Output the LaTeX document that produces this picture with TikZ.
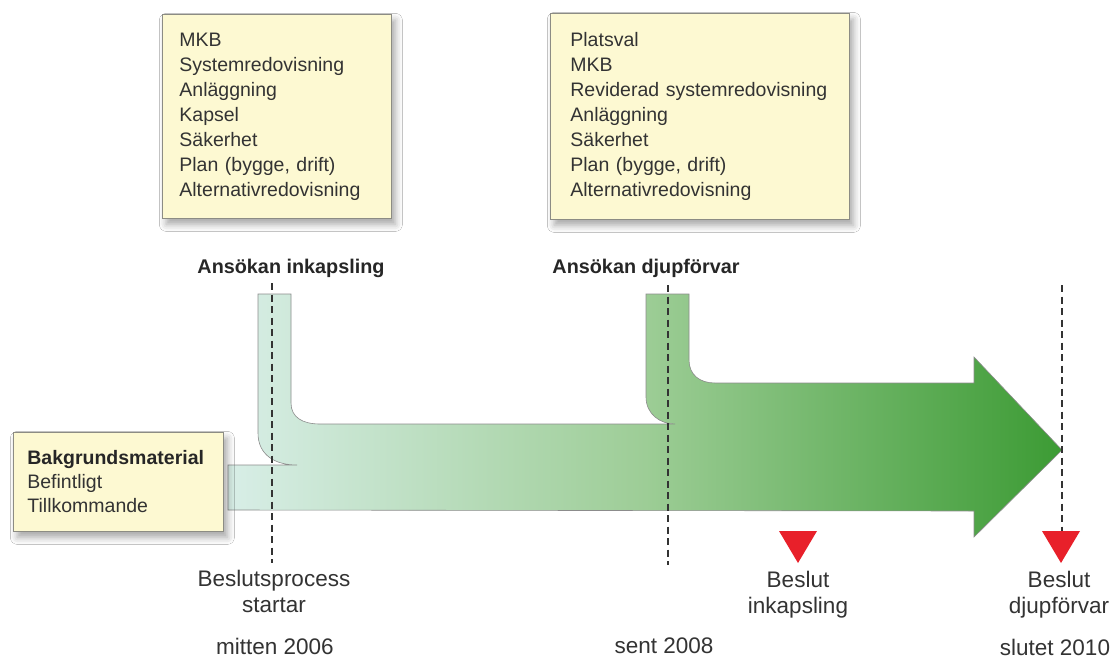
\documentclass[tikz,border=0pt]{standalone}
\usepackage{fontspec}
\setmainfont{Liberation Sans}
\usetikzlibrary{shadows.blur}
\definecolor{boxfill}{HTML}{FDF9D2}
\definecolor{boxdraw}{HTML}{8C8C84}
\definecolor{txt}{HTML}{333333}
\definecolor{gleft}{HTML}{D8EEE7}
\definecolor{gmid}{HTML}{9DCD96}
\definecolor{gright}{HTML}{3C9B34}
\definecolor{tri}{HTML}{E8202A}
\tikzset{
  infobox/.style={draw=boxdraw, line width=0.8pt, fill=boxfill, anchor=north west, align=left,
    text=txt, font=\fontsize{19.5}{25}\selectfont, inner ysep=0pt,
    blur shadow={shadow xshift=4pt, shadow yshift=-6pt, shadow blur radius=7pt, shadow opacity=35}},
  head/.style={font=\bfseries\fontsize{19.8}{24}\selectfont, text=black!85},
  lbl/.style={font=\fontsize{22.5}{26}\selectfont, text=txt, align=center},
  guide/.style={draw=black!80, line width=1.6pt, dash pattern=on 7pt off 4.5pt},
  marker/.style={fill=tri, draw=none}
}
\begin{document}
\begin{tikzpicture}[x=1pt, y=-1pt]
\useasboundingbox (0,0) rectangle (1114,659);
\fill[white] (0,0) rectangle (1114,659);

% flow shape
\path[draw=black!45, line width=0.6pt, left color=gleft, right color=gright, middle color=gmid]
  (228,510) -- (228,465) -- (297,465)
  .. controls (275,465) and (258,455) .. (258,433)
  -- (258,294) -- (291,294) -- (291,403)
  .. controls (291,417) and (302,424) .. (320,424)
  -- (675,424)
  .. controls (660,424) and (646,414) .. (646,397)
  -- (646,294) -- (689,294) -- (689,360)
  .. controls (689,375) and (700,383) .. (715,383)
  -- (974,383) -- (974,357) -- (1062,450) -- (974,537) -- (974,511)
  -- cycle;

% info boxes
\node[infobox, text width=195pt, inner xsep=17pt, minimum height=204pt] (box1) at (162,14)
  {MKB\\Systemredovisning\\Anläggning\\Kapsel\\Säkerhet\\Plan (bygge, drift)\\Alternativredovisning};
\node[infobox, text width=259pt, inner xsep=20pt, minimum height=206pt] (box2) at (550,13)
  {Platsval\\MKB\\\mbox{Reviderad systemredovisning}\\Anläggning\\Säkerhet\\Plan (bygge, drift)\\Alternativredovisning};
\node[infobox, text width=182pt, inner xsep=14pt, minimum height=99pt, font=\fontsize{19.5}{24}\selectfont] (bg) at (13,432)
  {\textbf{\color{black!85}Bakgrundsmaterial}\\Befintligt\\Tillkommande};

% headings
\node[head] (h1) at (291,268) {Ansökan inkapsling};
\node[head] (h2) at (646,268) {Ansökan djupförvar};

% guide lines
\coordinate (g1t) at (272,283); \coordinate (g1b) at (272,563);
\coordinate (g2t) at (668,285); \coordinate (g2b) at (668,565);
\coordinate (g3t) at (1062,285); \coordinate (g3b) at (1062,545);
\draw[guide] (g1t) -- (g1b);
\draw[guide] (g2t) -- (g2b);
\draw[guide] (g3t) -- (g3b);

% decision markers
\fill[marker] (779,531) -- (817,531) -- (798,563) -- cycle;
\fill[marker] (1042,531) -- (1080,531) -- (1061,563) -- cycle;

% labels
\node[lbl] (l1) at (274,591) {Beslutsprocess\\startar};
\node[lbl] (l2) at (798,595) {Beslut\\inkapsling};
\node[lbl] (l3) at (1059,595) {Beslut\\djupförvar};
\node[lbl] (d1) at (275,646) {mitten 2006};
\node[lbl] (d2) at (664,646) {sent 2008};
\node[lbl] (d3) at (1055,647) {slutet 2010};
\end{tikzpicture}
\end{document}
